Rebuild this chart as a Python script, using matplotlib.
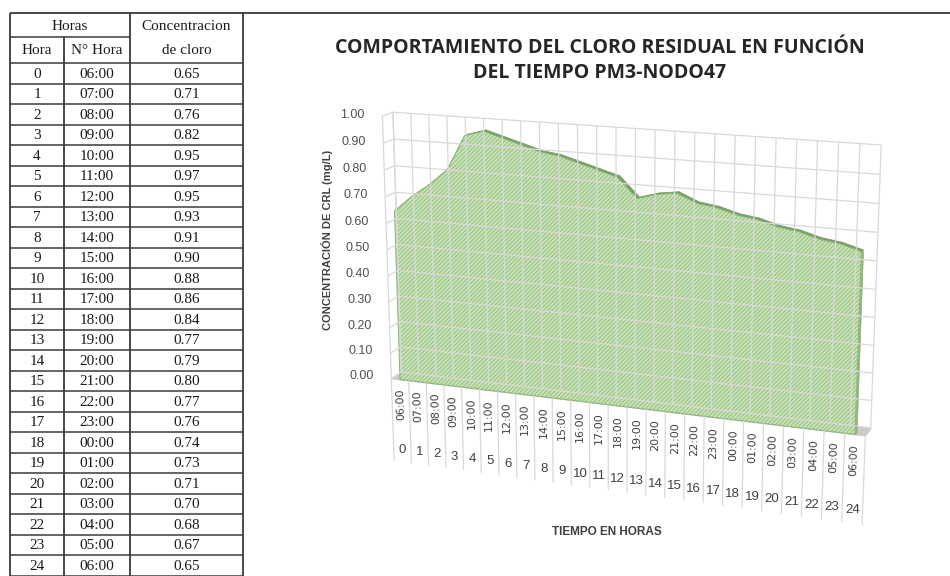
import numpy as np
import math
import matplotlib
matplotlib.use("Agg")
import matplotlib.pyplot as plt
from mpl_toolkits.mplot3d import proj3d
from mpl_toolkits.mplot3d.art3d import Poly3DCollection, Line3DCollection

# ---------------- data ----------------
hora = list(range(25))
n_hora = ["06:00", "07:00", "08:00", "09:00", "10:00", "11:00", "12:00", "13:00",
          "14:00", "15:00", "16:00", "17:00", "18:00", "19:00", "20:00", "21:00",
          "22:00", "23:00", "00:00", "01:00", "02:00", "03:00", "04:00", "05:00", "06:00"]
conc = [0.65, 0.71, 0.76, 0.82, 0.95, 0.97, 0.95, 0.93, 0.91, 0.90, 0.88, 0.86, 0.84,
        0.77, 0.79, 0.80, 0.77, 0.76, 0.74, 0.73, 0.71, 0.70, 0.68, 0.67, 0.65]
y_ticks = [0.0, 0.1, 0.2, 0.3, 0.4, 0.5, 0.6, 0.7, 0.8, 0.9, 1.0]
table_head1 = ["Horas", "Concentracion"]
table_head2 = ["Hora", "N° Hora", "de cloro"]
title_lines = ["COMPORTAMIENTO DEL CLORO RESIDUAL EN FUNCIÓN", "DEL TIEMPO PM3-NODO47"]
ylabel = "CONCENTRACIÓN DE CRL (mg/L)"
xlabel = "TIEMPO EN HORAS"

# ---------------- figure ----------------
W, H = 950, 576
plt.rcParams["hatch.color"] = "#b4d6a0"
plt.rcParams["hatch.linewidth"] = 0.5
fig = plt.figure(figsize=(W / 100, H / 100), dpi=100)
fig.patch.set_facecolor("white")

# pixel overlay axes for the table, frame and labels
ax0 = fig.add_axes([0, 0, 1, 1])
ax0.set_xlim(0, W)
ax0.set_ylim(H, 0)
ax0.axis("off")

col_edges = [10, 64, 130, 243]
top, mid, head_bot, row_h = 13, 37, 63, 20.5
lc = "#3a3a3a"
ax0.hlines(top, col_edges[0], W, color=lc, lw=1.3)
ax0.vlines([col_edges[0], col_edges[2], col_edges[3]], top, H, color=lc, lw=1.3)
ax0.vlines(col_edges[1], mid, H, color=lc, lw=1.3)
ax0.hlines(mid, col_edges[0], col_edges[2], color=lc, lw=1.1)
row_lines = [head_bot + k * row_h for k in range(len(hora) + 1)]
ax0.hlines(row_lines, col_edges[0], col_edges[3], color=lc, lw=1.1)

tf = dict(family="Liberation Serif", fontsize=11, color="#1a1a1a", ha="center", va="center")
ax0.text((col_edges[0] + col_edges[2]) / 2, (top + mid) / 2 + 1, table_head1[0], **tf)
ax0.text((col_edges[2] + col_edges[3]) / 2, (top + mid) / 2 + 1, table_head1[1], **tf)
for j, t in enumerate(table_head2):
    ax0.text((col_edges[j] + col_edges[j + 1]) / 2, (mid + head_bot) / 2 + 1, t, **tf)
for k in range(len(hora)):
    yc = head_bot + (k + 0.5) * row_h + 1
    ax0.text((col_edges[0] + col_edges[1]) / 2, yc, str(hora[k]), **tf)
    ax0.text((col_edges[1] + col_edges[2]) / 2, yc, n_hora[k], **tf)
    ax0.text((col_edges[2] + col_edges[3]) / 2, yc, f"{conc[k]:.2f}", **tf)

# titles
ax0.text(600, 48, title_lines[0], ha="center", va="center", fontsize=14,
         fontweight="bold", family="Open Sans", color="#262626")
ax0.text(600, 73, title_lines[1], ha="center", va="center", fontsize=14,
         fontweight="bold", family="Open Sans", color="#262626")
ax0.text(327, 240, ylabel, rotation=90, ha="center", va="center", fontsize=8,
         fontweight="bold", family="Liberation Sans", color="#404040")
ax0.text(607, 532, xlabel, ha="center", va="center", fontsize=8.5,
         fontweight="bold", family="Liberation Sans", color="#404040")

# ---------------- 3D area chart ----------------
side = 560
ax = fig.add_axes([330 / W, 1 - 560 / H, side / W, side / H], projection="3d",
                  proj_type="persp", focal_length=0.6, computed_zorder=False)
ax.set_facecolor("none")
ax.view_init(elev=15, azim=-70)
ax.set_box_aspect((475, 22, 262), zoom=1.0)
ax.set_axis_off()

n = len(conc)
x = np.array(hora, dtype=float)
v = np.array(conc)
x0, x1 = x[0] - 0.5, x[-1] + 0.5
yb, ya = 1.0, 0.3
grid_c = "#d9d9d9"

# back wall grid
segs = [[(x0, yb, z), (x1, yb, z)] for z in y_ticks]
segs += [[(xb, yb, 0), (xb, yb, 1)] for xb in np.arange(x0, x1 + 0.01, 1.0)]
ax.add_collection3d(Line3DCollection(segs, colors=grid_c, linewidths=0.9))
# side wall grid
segs = [[(x0, 0, z), (x0, yb, z)] for z in y_ticks]
segs += [[(x0, 0, 0), (x0, 0, 1)], [(x0, yb, 0), (x0, yb, 1)]]
ax.add_collection3d(Line3DCollection(segs, colors=grid_c, linewidths=0.9))
# floor
ax.add_collection3d(Poly3DCollection([[(x0, 0, 0), (x1, 0, 0), (x1, yb, 0), (x0, yb, 0)]],
                                     facecolors="#cacaca", edgecolors="#cacaca", linewidths=0.5))
# area top surface
tops = [[(x[i], 0, v[i]), (x[i + 1], 0, v[i + 1]), (x[i + 1], ya, v[i + 1]), (x[i], ya, v[i])]
        for i in range(n - 1)]
ax.add_collection3d(Poly3DCollection(tops, facecolors="#789f66", edgecolors="#789f66", linewidths=0.6))
# right side
ax.add_collection3d(Poly3DCollection([[(x[-1], 0, 0), (x[-1], 0, v[-1]), (x[-1], ya, v[-1]), (x[-1], ya, 0)]],
                                     facecolors="#8db47a", edgecolors="#8db47a", linewidths=0.5))
# front face
front = [(x[0], 0, 0)] + [(x[i], 0, v[i]) for i in range(n)] + [(x[-1], 0, 0)]
ax.add_collection3d(Poly3DCollection([front], facecolors="#c6e1b3", edgecolors="#8cb477",
                                     linewidths=0.7, hatch="////////"))

# category separators
segs = [[(xb, 0, 0), (xb, 0, -0.33)] for xb in np.arange(x0, x1 + 0.01, 1.0)]
ax.add_collection3d(Line3DCollection(segs, colors=grid_c, linewidths=0.9))

ax.set_xlim(x0, x1)
ax.set_ylim(0, yb)
ax.set_zlim(0, 1)

# ---- fit the 3D axes so the front baseline sits in the chart area ----
fig.canvas.draw()


def to_px(px, py, pz):
    xs, ys, _ = proj3d.proj_transform(np.array([px], float), np.array([py], float),
                                      np.array([pz], float), ax.M)
    d = ax.transData.transform(np.column_stack([xs, ys]))
    return np.array([d[0, 0], H - d[0, 1]])


P1, P2 = to_px(x[0], 0, 0), to_px(x[-1], 0, 0)
Q1, Q2 = np.array([400.0, 377.0]), np.array([855.0, 437.0])
s = (Q2[0] - Q1[0]) / (P2[0] - P1[0])
bb = ax.get_position()
c = np.array([(bb.x0 + bb.x1) / 2 * W, H - (bb.y0 + bb.y1) / 2 * H])
Pm, Qm = (P1 + P2) / 2, (Q1 + Q2) / 2
cn = Qm - s * (Pm - c)
wn, hn = bb.width * W * s, bb.height * H * s
ax.set_position([(cn[0] - wn / 2) / W, (H - cn[1] - hn / 2) / H, wn / W, hn / H])
fig.canvas.draw()

# ---- axis labels placed at projected 3D positions ----
for i in range(n):
    pa = to_px(x[i], 0, -0.035)
    pb = to_px(x[i], 0, 0.1)
    ang = math.degrees(math.atan2(-(pb[1] - pa[1]), pb[0] - pa[0]))
    ax0.text(pa[0], pa[1], n_hora[i], rotation=ang, rotation_mode="anchor", ha="right",
             va="center", fontsize=8, color="#404040", family="DejaVu Sans")
    pn = to_px(x[i], 0, -0.28)
    ax0.text(pn[0], pn[1], str(hora[i]), ha="center", va="center", fontsize=9.5,
             color="#404040", family="Liberation Sans")
for z in y_ticks:
    pt = to_px(x0 - 1.0, 0, z)
    ax0.text(pt[0], pt[1], f"{z:.2f}", ha="right", va="center", fontsize=9,
             color="#505050", family="Liberation Sans")

fig.savefig("out.png", dpi=100, facecolor="white")
